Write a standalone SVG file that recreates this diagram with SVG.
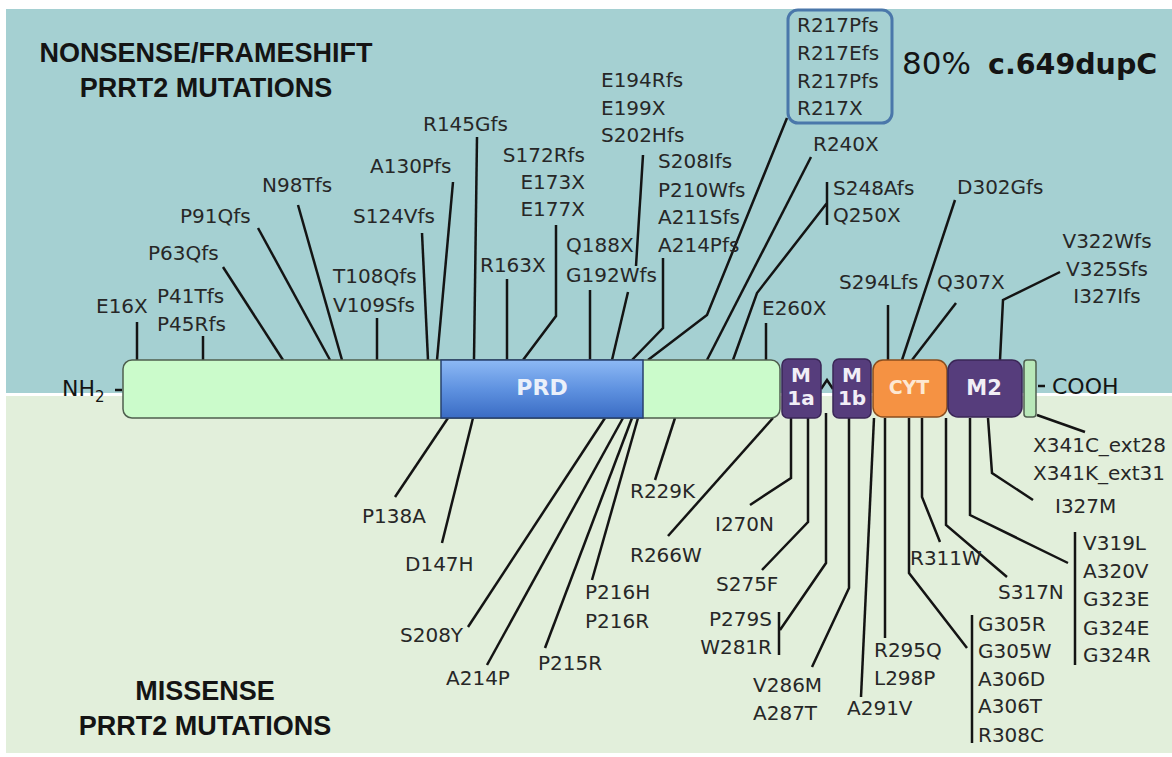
<svg xmlns="http://www.w3.org/2000/svg" width="1172" height="757" viewBox="0 0 1172 757">
<defs>
<linearGradient id="prdGrad" x1="0" y1="0" x2="0" y2="1">
<stop offset="0" stop-color="#8db9f5"/>
<stop offset="0.5" stop-color="#5f92e0"/>
<stop offset="1" stop-color="#3a6cc4"/>
</linearGradient>
<style>
.lbl{font-family:"DejaVu Sans",sans-serif;font-size:20px;fill:#272727}
.title{font-family:"Liberation Sans",Arial,sans-serif;font-size:27px;font-weight:bold;fill:#141414}
.con{fill:none;stroke:#141414;stroke-width:2.5;stroke-linejoin:miter}
.dom{font-family:"DejaVu Sans",sans-serif;font-weight:bold;text-anchor:middle}
.term{font-family:"DejaVu Sans",sans-serif;font-size:22px;fill:#141414}
</style>
</defs>
<rect x="0" y="0" width="1172" height="757" fill="#ffffff"/>
<rect x="6" y="9" width="1166" height="384" fill="#a5d0d2"/>
<rect x="6" y="396" width="1166" height="357" fill="#e2efdb"/>

<g id="titles">
<text class="title" x="206" y="62" text-anchor="middle">NONSENSE/FRAMESHIFT</text>
<text class="title" x="206" y="97" text-anchor="middle">PRRT2 MUTATIONS</text>
<text class="title" x="205" y="700" text-anchor="middle">MISSENSE</text>
<text class="title" x="205" y="735" text-anchor="middle">PRRT2 MUTATIONS</text>
<text x="902" y="74" font-family="DejaVu Sans,sans-serif" font-size="31" fill="#141414">80%</text>
<text x="988" y="74" font-family="DejaVu Sans,sans-serif" font-size="28.5" font-weight="bold" fill="#141414">c.649dupC</text>
</g>

<g id="connectors">
<path class="con" d="M137,322V360"/>
<path class="con" d="M203,336V360"/>
<path class="con" d="M223,267L283,360"/>
<path class="con" d="M258,228L330,360"/>
<path class="con" d="M298,205L342,360"/>
<path class="con" d="M377,318V360"/>
<path class="con" d="M422,233L428,360"/>
<path class="con" d="M453,182L437,360"/>
<path class="con" d="M477,137L474,360"/>
<path class="con" d="M556,225V316L523,360"/>
<path class="con" d="M507,279V360"/>
<path class="con" d="M590,290V360"/>
<path class="con" d="M628,292L612,360"/>
<path class="con" d="M643,155L636,266"/>
<path class="con" d="M663,258V328L632,360"/>
<path class="con" d="M787,118L707,315L648,360"/>
<path class="con" d="M811,157L707,360"/>
<path class="con" d="M827,182V225M827,203L757,293L733,360"/>
<path class="con" d="M766,323V360"/>
<path class="con" d="M888,305V360"/>
<path class="con" d="M955,200L902,360"/>
<path class="con" d="M956,303L912,360"/>
<path class="con" d="M1060,272L1003,300L1000,360"/>
<path class="con" d="M448,418L395,497"/>
<path class="con" d="M473,418L442,543"/>
<path class="con" d="M605,418L468,627"/>
<path class="con" d="M623,418L487,665"/>
<path class="con" d="M632,418L545,648"/>
<path class="con" d="M638,418L592,580"/>
<path class="con" d="M675,418L655,480"/>
<path class="con" d="M773,418L668,536"/>
<path class="con" d="M791,418V478L750,505"/>
<path class="con" d="M808,418V522L762,570"/>
<path class="con" d="M826,413V563L780,630M779,612V655"/>
<path class="con" d="M849,418V588L812,667"/>
<path class="con" d="M874,418L861,697"/>
<path class="con" d="M885,418V638"/>
<path class="con" d="M909,418V573L967,648M972,615V743"/>
<path class="con" d="M922,418V497L940,542"/>
<path class="con" d="M946,418V525L1007,577"/>
<path class="con" d="M970,418V515L1068,563M1075,532V665"/>
<path class="con" d="M988,418L992,473L1033,500"/>
<path class="con" d="M1037,415L1085,432"/>
<path class="con" d="M821,389L827,380L833,389" stroke-width="2"/>
<path class="con" d="M115,390H122M1038,386H1045" stroke-width="2"/>
</g>

<g id="protein">
<g id="n-terminal-domain">
<rect x="123" y="360" width="657" height="58" rx="9" fill="#cbfbcb" stroke="#4f5f4f" stroke-width="1.5"/>
</g>
<g id="PRD">
<rect x="441" y="360" width="202" height="58" fill="url(#prdGrad)" stroke="#27406e" stroke-width="1.5"/>
<text class="dom" x="542" y="395" font-size="22" fill="#eaf0fa">PRD</text>
</g>
<g id="M1a">
<rect x="782" y="359" width="39" height="59" rx="6" fill="#563d7c" stroke="#3a2656" stroke-width="1.5"/>
<text class="dom" x="801" y="382" font-size="20" fill="#f1eef6">M</text>
<text class="dom" x="801" y="405" font-size="20" fill="#f1eef6">1a</text>
</g>
<g id="M1b">
<rect x="833" y="359" width="38" height="59" rx="6" fill="#563d7c" stroke="#3a2656" stroke-width="1.5"/>
<text class="dom" x="852" y="382" font-size="20" fill="#f1eef6">M</text>
<text class="dom" x="852" y="405" font-size="20" fill="#f1eef6">1b</text>
</g>
<g id="CYT">
<rect x="873" y="360" width="74" height="57" rx="10" fill="#f59243" stroke="#8a4e1e" stroke-width="1.5"/>
<text class="dom" x="909" y="394" font-size="19" fill="#fde8d2">CYT</text>
</g>
<g id="M2">
<rect x="948" y="360" width="74" height="57" rx="10" fill="#563d7c" stroke="#3a2656" stroke-width="1.5"/>
<text class="dom" x="984" y="395" font-size="21" fill="#f1eef6">M2</text>
</g>
<g id="c-tail">
<rect x="1024" y="360" width="12" height="57" rx="3" fill="#b9e8b9" stroke="#4f5f4f" stroke-width="1.5"/>
</g>
<g id="NH2">
<text class="term" x="62" y="396">NH<tspan font-size="15" dy="6">2</tspan></text>
</g>
<g id="COOH">
<text class="term" x="1052" y="394">COOH</text>
</g>
</g>

<g id="r217-box">
<rect x="788" y="10" width="104" height="113" rx="10" fill="none" stroke="#4a77aa" stroke-width="3"/>
<text class="lbl" x="797" y="32">R217Pfs</text>
<text class="lbl" x="797" y="60">R217Efs</text>
<text class="lbl" x="797" y="88">R217Pfs</text>
<text class="lbl" x="797" y="115">R217X</text>
</g>

<g id="nonsense-labels" class="lbl">
<g id="E16X"><text class="lbl" x="96" y="313">E16X</text></g>
<g id="P41Tfs"><text class="lbl" x="157" y="303">P41Tfs</text><text class="lbl" x="157" y="331">P45Rfs</text></g>
<g id="P63Qfs"><text class="lbl" x="148" y="260">P63Qfs</text></g>
<g id="P91Qfs"><text class="lbl" x="180" y="223">P91Qfs</text></g>
<g id="N98Tfs"><text class="lbl" x="262" y="192">N98Tfs</text></g>
<g id="T108Qfs"><text class="lbl" x="333" y="283">T108Qfs</text><text class="lbl" x="333" y="312">V109Sfs</text></g>
<g id="S124Vfs"><text class="lbl" x="353" y="223">S124Vfs</text></g>
<g id="A130Pfs"><text class="lbl" x="370" y="173">A130Pfs</text></g>
<g id="R145Gfs"><text class="lbl" x="423" y="131">R145Gfs</text></g>
<g id="S172Rfs"><text class="lbl" x="585" y="162" text-anchor="end">S172Rfs</text><text class="lbl" x="585" y="189" text-anchor="end">E173X</text><text class="lbl" x="585" y="216" text-anchor="end">E177X</text></g>
<g id="R163X"><text class="lbl" x="480" y="272">R163X</text></g>
<g id="Q188X"><text class="lbl" x="566" y="252">Q188X</text></g>
<g id="G192Wfs"><text class="lbl" x="566" y="282">G192Wfs</text></g>
<g id="E194Rfs"><text class="lbl" x="601" y="87">E194Rfs</text><text class="lbl" x="601" y="115">E199X</text><text class="lbl" x="601" y="142">S202Hfs</text></g>
<g id="S208Ifs"><text class="lbl" x="658" y="168">S208Ifs</text><text class="lbl" x="658" y="197">P210Wfs</text><text class="lbl" x="658" y="224">A211Sfs</text><text class="lbl" x="658" y="252">A214Pfs</text></g>
<g id="R240X"><text class="lbl" x="813" y="151">R240X</text></g>
<g id="S248Afs"><text class="lbl" x="833" y="195">S248Afs</text><text class="lbl" x="833" y="222">Q250X</text></g>
<g id="D302Gfs"><text class="lbl" x="957" y="194">D302Gfs</text></g>
<g id="E260X"><text class="lbl" x="762" y="315">E260X</text></g>
<g id="S294Lfs"><text class="lbl" x="839" y="289">S294Lfs</text></g>
<g id="Q307X"><text class="lbl" x="937" y="289">Q307X</text></g>
<g id="V322Wfs"><text class="lbl" x="1107" y="248" text-anchor="middle">V322Wfs</text><text class="lbl" x="1107" y="276" text-anchor="middle">V325Sfs</text><text class="lbl" x="1107" y="303" text-anchor="middle">I327Ifs</text></g>
</g>

<g id="missense-labels">
<g id="P138A"><text class="lbl" x="362" y="523">P138A</text></g>
<g id="D147H"><text class="lbl" x="405" y="571">D147H</text></g>
<g id="S208Y"><text class="lbl" x="400" y="642">S208Y</text></g>
<g id="A214P"><text class="lbl" x="446" y="685">A214P</text></g>
<g id="P215R"><text class="lbl" x="538" y="670">P215R</text></g>
<g id="P216H"><text class="lbl" x="585" y="599">P216H</text><text class="lbl" x="585" y="628">P216R</text></g>
<g id="R229K"><text class="lbl" x="630" y="498">R229K</text></g>
<g id="R266W"><text class="lbl" x="630" y="562">R266W</text></g>
<g id="I270N"><text class="lbl" x="715" y="531">I270N</text></g>
<g id="S275F"><text class="lbl" x="716" y="591">S275F</text></g>
<g id="P279S"><text class="lbl" x="772" y="626" text-anchor="end">P279S</text><text class="lbl" x="772" y="654" text-anchor="end">W281R</text></g>
<g id="V286M"><text class="lbl" x="753" y="692">V286M</text><text class="lbl" x="753" y="720">A287T</text></g>
<g id="A291V"><text class="lbl" x="847" y="715">A291V</text></g>
<g id="R295Q"><text class="lbl" x="874" y="657">R295Q</text><text class="lbl" x="874" y="685">L298P</text></g>
<g id="R311W"><text class="lbl" x="910" y="565">R311W</text></g>
<g id="S317N"><text class="lbl" x="998" y="599">S317N</text></g>
<g id="G305R"><text class="lbl" x="978" y="631">G305R</text><text class="lbl" x="978" y="658">G305W</text><text class="lbl" x="978" y="686">A306D</text><text class="lbl" x="978" y="713">A306T</text><text class="lbl" x="978" y="742">R308C</text></g>
<g id="V319L"><text class="lbl" x="1083" y="550">V319L</text><text class="lbl" x="1083" y="578">A320V</text><text class="lbl" x="1083" y="606">G323E</text><text class="lbl" x="1083" y="635">G324E</text><text class="lbl" x="1083" y="662">G324R</text></g>
<g id="I327M"><text class="lbl" x="1055" y="513">I327M</text></g>
<g id="X341C"><text class="lbl" x="1033" y="452">X341C_ext28</text><text class="lbl" x="1033" y="480">X341K_ext31</text></g>
</g>
</svg>
